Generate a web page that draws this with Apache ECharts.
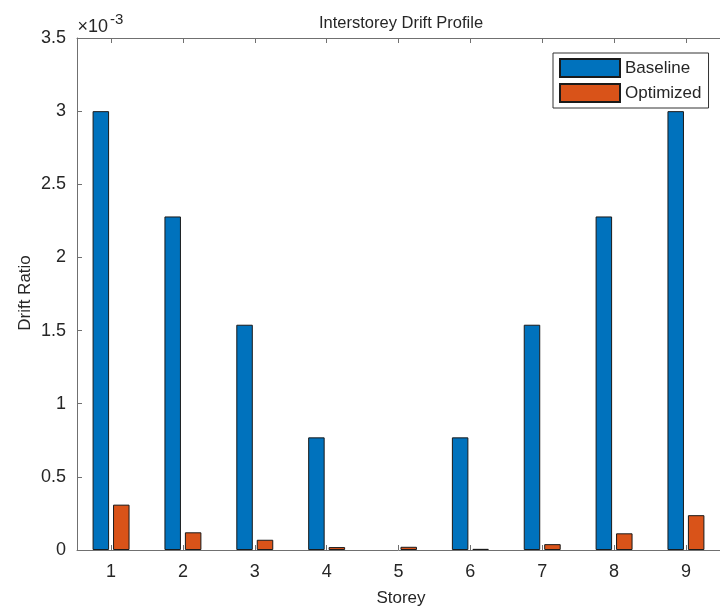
<!DOCTYPE html>
<html>
<head>
<meta charset="utf-8">
<title>Interstorey Drift Profile</title>
<script src="https://cdn.jsdelivr.net/npm/echarts@6/dist/echarts.min.js"></script>
<style>
  html, body { margin: 0; padding: 0; background: #fff; }
  #chart { width: 720px; height: 607px; }
</style>
</head>
<body>
<div id="chart"></div>
<script>
// Storey numbers and drift ratios per storey
const storeys = [1, 2, 3, 4, 5, 6, 7, 8, 9];
const baselineDrift = [0.00300, 0.00228, 0.00154, 0.00077, 0.0, 0.00077, 0.00154, 0.00228, 0.00300];
const optimizedDrift = [0.000310, 0.000121, 0.000070, 0.000020, 0.000022, 0.000008, 0.000040, 0.000114, 0.000238];
const seriesNames = ['Baseline', 'Optimized'];
const yTickScale = 1e-3;

const FONT = '"Liberation Sans", Arial, Helvetica, sans-serif';
const AXIS_COLOR = '#707070';
const TEXT_COLOR = '#262626';

const chart = echarts.init(document.getElementById('chart'), null, { renderer: 'canvas' });

const xRange = { min: 0.526, max: 9.474 };

// [storey, value] pairs; a zero-height bar gets no outline so it stays invisible
function pairs(values) {
  return storeys.map((s, i) => {
    const item = { value: [s, values[i]] };
    if (values[i] === 0) item.itemStyle = { borderWidth: 0, opacity: 0 };
    return item;
  });
}

const option = {
  animation: false,
  backgroundColor: '#ffffff',
  grid: { left: 77, top: 38, right: -5, bottom: 57, containLabel: false },
  legend: {
    orient: 'vertical',
    left: 553,
    top: 53,
    padding: [5, 7, 5, 6],
    itemWidth: 60,
    itemHeight: 18,
    itemGap: 5,
    borderColor: '#333',
    borderWidth: 1,
    backgroundColor: '#ffffff',
    icon: 'rect',
    textStyle: { fontFamily: FONT, fontSize: 17, color: TEXT_COLOR, lineHeight: 18 },
    data: seriesNames
  },
  xAxis: [
    {
      type: 'value',
      min: xRange.min,
      max: xRange.max,
      position: 'bottom',
      axisLine: { show: true, onZero: false, lineStyle: { color: AXIS_COLOR, width: 1 } },
      axisTick: { show: true, inside: true, length: 5, customValues: storeys, lineStyle: { color: AXIS_COLOR } },
      axisLabel: { show: true, customValues: storeys, margin: 13, fontFamily: FONT, fontSize: 18, color: TEXT_COLOR },
      splitLine: { show: false }
    },
    {
      type: 'value',
      min: xRange.min,
      max: xRange.max,
      position: 'top',
      axisLine: { show: true, onZero: false, lineStyle: { color: AXIS_COLOR, width: 1 } },
      axisTick: { show: true, inside: true, length: 5, customValues: storeys, lineStyle: { color: AXIS_COLOR } },
      axisLabel: { show: false },
      splitLine: { show: false }
    }
  ],
  yAxis: {
    type: 'value',
    min: 0,
    max: 0.0035,
    interval: 0.0005,
    axisLine: { show: true, lineStyle: { color: AXIS_COLOR, width: 1 } },
    axisTick: { show: true, inside: true, length: 5, lineStyle: { color: AXIS_COLOR } },
    axisLabel: {
      margin: 11,
      fontFamily: FONT,
      fontSize: 18,
      color: TEXT_COLOR,
      formatter: v => String(Math.round(v / yTickScale * 10) / 10)
    },
    splitLine: { show: false }
  },
  series: [
    {
      name: seriesNames[0],
      type: 'bar',
      xAxisIndex: 0,
      barWidth: 16.5,
      barGap: '24%',
      itemStyle: { color: '#0072BD', borderColor: '#1a1a1a', borderWidth: 1 },
      data: pairs(baselineDrift)
    },
    {
      name: seriesNames[1],
      type: 'bar',
      xAxisIndex: 0,
      barWidth: 16.5,
      barGap: '24%',
      itemStyle: { color: '#D95319', borderColor: '#1a1a1a', borderWidth: 1 },
      data: pairs(optimizedDrift)
    }
  ],
  graphic: [
    {
      type: 'text', x: 401, y: 23.5,
      style: { text: 'Interstorey Drift Profile', font: '16.5px ' + FONT, fill: TEXT_COLOR, textAlign: 'center', textVerticalAlign: 'middle' }
    },
    {
      type: 'text', x: 401, y: 598,
      style: { text: 'Storey', font: '17px ' + FONT, fill: TEXT_COLOR, textAlign: 'center', textVerticalAlign: 'middle' }
    },
    {
      type: 'text', x: 25.5, y: 293, rotation: Math.PI / 2,
      style: { text: 'Drift Ratio', font: '17px ' + FONT, fill: TEXT_COLOR, textAlign: 'center', textVerticalAlign: 'middle' }
    },
    {
      type: 'text', x: 77.5, y: 26.7,
      style: { text: '×10', font: '18px ' + FONT, fill: TEXT_COLOR, textAlign: 'left', textVerticalAlign: 'middle' }
    },
    {
      type: 'text', x: 110, y: 19.5,
      style: { text: '-3', font: '15px ' + FONT, fill: TEXT_COLOR, textAlign: 'left', textVerticalAlign: 'middle' }
    }
  ]
};

chart.setOption(option);
</script>
</body>
</html>
